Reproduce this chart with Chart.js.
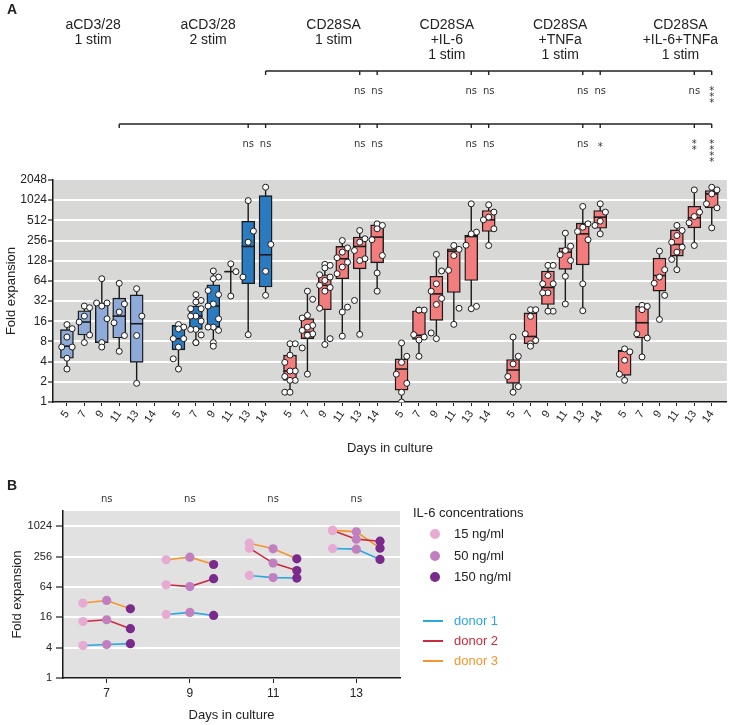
<!DOCTYPE html>
<html>
<head>
<meta charset="utf-8">
<script src="https://cdn.jsdelivr.net/npm/chart.js@4.4.0/dist/chart.umd.min.js"></script>
<style>
  body { margin: 0; background: #fff; font-family: "Liberation Sans", Arial, sans-serif; color: #222; }
  #wrap { position: relative; width: 729px; height: 725px; overflow: hidden; }
  canvas { position: absolute; left: 0; }
  #chartA { top: 0; }
  #chartB { top: 470px; }
  .panel { position: absolute; font-weight: bold; font-size: 14px; line-height: 14px; }
  .lg { position: absolute; font-size: 13px; line-height: 16px; white-space: nowrap; }
  .dot { position: absolute; width: 10px; height: 10px; border-radius: 50%; }
  .dash { position: absolute; width: 20px; height: 2px; }
</style>
</head>
<body>
<div id="wrap">
  <!-- a little wider than the page: Chart.js keeps ~8px free right of the plot for the rotated last label -->
  <canvas id="chartA" width="735" height="460"></canvas>
  <canvas id="chartB" width="729" height="255"></canvas>
  <div class="panel" style="left:7px; top:2px">A</div>
  <div class="panel" style="left:7px; top:478px">B</div>
  <div id="legendB"></div>
</div>
<script>
// ---- panel A data ----
const days = [5, 7, 9, 11, 13, 14];
const yTicksA = [1, 2, 4, 8, 16, 32, 64, 128, 256, 512, 1024, 2048];
const groupNames = [
  ['aCD3/28', '1 stim'],
  ['aCD3/28', '2 stim'],
  ['CD28SA', '1 stim'],
  ['CD28SA', '+IL-6', '1 stim'],
  ['CD28SA', '+TNFa', '1 stim'],
  ['CD28SA', '+IL-6+TNFa', '1 stim']
];
const groupColors = ['#8eaad8', '#2b7bc1', '#f37c7c', '#f37c7c', '#f37c7c', '#f37c7c'];

// [min, q1, median, q3, max] for each day
const g1Boxes = [[3.1, 4.5, 6.8, 12, 14.3], [7.7, 10, 15.6, 23, 27], [6.6, 7.7, 28.5, 30, 69], [5.7, 9, 19.1, 35.5, 59], [1.9, 3.9, 14.7, 39.7, 49], null];
const g2Boxes = [[3.1, 6.0, 8.8, 13.9, 14.3], [7.6, 12.1, 19.1, 27, 40], [6.8, 13.1, 27, 56, 90], [38, 88, 88, 88, 115], [10.1, 58, 209, 498, 1010], [39, 52, 157, 1200, 1600]];
const g3Boxes = [[1.4, 2.1, 2.9, 5.0, 7.4], [2.6, 8.8, 11, 17.5, 45], [7.2, 23.8, 55, 79, 113], [9.6, 69, 137, 209, 256], [10.2, 97, 209, 288, 362], [45, 119, 288, 439, 455]];
const g4Boxes = [[1.0, 1.5, 3.1, 4.4, 7.6], [4.8, 8.6, 9.9, 23, 23.5], [8.8, 16.5, 41, 75, 159], [14.4, 43, 178, 193, 216], [24.6, 65, 294, 305, 904], [216, 349, 522, 719, 873]];
const g5Boxes = [[1.4, 1.9, 3.0, 4.3, 9.3], [6.8, 7.4, 9.5, 21.4, 23.8], [22.6, 28.5, 51, 90, 109], [29, 95, 172, 199, 330], [23, 111, 322, 465, 826], [322, 391, 572, 719, 904]];
const g6Boxes = [[2.1, 2.5, 5.75, 5.9, 6.2], [4.7, 9, 15.2, 26.7, 27.6], [17, 45, 77, 140, 178], [94, 150, 224, 370, 430], [216, 396, 560, 832, 1458], [396, 787, 1270, 1428, 1595]];

// individual donors
const g1Dots = [[14.3, 12.4, 9.3, 6.6, 6.6, 4.5, 3.1], [27, 25.5, 19.1, 15.6, 10, 7.7], [69, 30, 27, 30, 17.4, 7.7, 6.6], [59, 29, 22, 15.2, 9.8, 5.7], [49, 19.1, 9.8, 1.9], []];
const g2Dots = [[14.3, 13.1, 12.3, 8.8, 8.8, 6.6, 4.4, 3.1], [40, 32.7, 31, 24.6, 24.6, 19.1, 19.1, 16.1, 12.1, 12.1, 10, 7.7, 7.7], [90, 73, 69, 46, 40, 29, 27, 17.4, 13.1, 13.1, 11.7, 7.7, 6.8], [115, 88, 38], [1010, 354, 242, 73, 10.1], [1600, 224, 89, 39]];
const g3Dots = [[7.4, 7.4, 5.0, 3.9, 2.9, 2.9, 2.4, 2.1, 2.1, 1.4, 1.4], [45, 34, 19.6, 17.9, 13.9, 13.1, 11.7, 10.4, 9.9, 6.4, 2.6], [113, 109, 100, 79, 73, 65, 55, 51, 45, 25, 8.8, 7.2], [256, 199, 172, 142, 122, 103, 82, 26, 22, 9.6], [362, 272, 242, 182, 137, 129, 32.7, 10.2], [455, 430, 383, 263, 153, 84, 45]];
const g4Dots = [[7.6, 4.8, 3.9, 2.6, 1.9, 1.4, 1.0], [23.5, 23.5, 23.5, 10.1, 9.3, 8.4, 4.8], [159, 90, 58, 45, 35, 28.5, 10.7, 8.8], [216, 189, 153, 92, 25, 14.4], [904, 342, 322, 218, 26.7, 24.6], [873, 680, 572, 522, 383, 216]];
const g5Dots = [[9.3, 4.8, 3.7, 2.4, 1.7, 1.4], [23.8, 23.8, 18.9, 10.4, 8.3, 7.4, 6.8], [109, 109, 77, 58, 58, 42.5, 42.5, 22.6, 22.6], [330, 211, 182, 157, 129, 75, 29], [826, 455, 405, 349, 263, 58, 23], [904, 680, 498, 430, 322]];
const g6Dots = [[6.2, 5.6, 4.2, 2.6, 2.1], [27.6, 26.7, 23.8, 10.4, 9, 4.7], [178, 94, 73, 59, 39, 17], [430, 362, 304, 242, 204, 172, 134, 94], [1458, 680, 584, 471, 216], [1595, 1458, 1270, 904, 787, 396]];

// significance: [group, day index]
const sigRef1 = [1, 5];
const sigTargets1 = [[2, 4], [2, 5], [3, 4], [3, 5], [4, 4], [4, 5], [5, 4], [5, 5]];
const sigLabels1 = ['ns', 'ns', 'ns', 'ns', 'ns', 'ns', 'ns', '***'];
const sigRef2 = [0, 3];
const sigTargets2 = [[1, 4], [1, 5], [2, 4], [2, 5], [3, 4], [3, 5], [4, 4], [4, 5], [5, 4], [5, 5]];
const sigLabels2 = ['ns', 'ns', 'ns', 'ns', 'ns', 'ns', 'ns', '*', '**', '****'];

// ---- panel B data ----
const bDays = [7, 9, 11, 13];
const yTicksB = [1, 4, 16, 64, 256, 1024];
const bSig = ['ns', 'ns', 'ns', 'ns'];
const concLabels = ['15 ng/ml', '50 ng/ml', '150 ng/ml'];
const concColors = ['#e6aad3', '#c17fc0', '#7a2a8c'];
const donorLabels = ['donor 1', 'donor 2', 'donor 3'];
const donorColors = ['#2aa8e0', '#cc2a3f', '#f5962a'];
// per day: [15, 50, 150 ng/ml]
const donor1 = [[4.4, 4.6, 4.8], [18.2, 20, 17.4], [108, 98, 96], [370, 359, 224]];
const donor2 = [[13.2, 14.3, 9.5], [70.5, 65, 93], [375, 190, 135], [839, 566, 516]];
const donor3 = [[30.6, 34.5, 23.6], [221, 249, 178], [471, 364, 231], [854, 791, 375]];

// ---- layout ----
const groupStep = 6.4;
const titleShift = [-1.0, -0.8, 0, 0.1, 0.2, 0.7];
const concOffset = [-0.57, 0, 0.57];
const FONT = '"Liberation Sans", Arial, sans-serif';
Chart.defaults.font.family = FONT;
Chart.defaults.color = '#222';

function pos(g, i) { return g * groupStep + i; }

const plotBg = {
  id: 'plotBg',
  beforeDraw(chart, args, opts) {
    const a = chart.chartArea;
    chart.ctx.save();
    chart.ctx.fillStyle = opts.color;
    chart.ctx.fillRect(a.left, a.top, a.right - a.left, a.bottom - a.top);
    chart.ctx.restore();
  }
};

function drawStars(ctx, label, x, y) {
  if (label.indexOf('*') < 0) { ctx.fillText(label, x, y); return; }
  const n = label.length;
  const start = n === 1 ? y : y - 3;
  for (let k = 0; k < n; k++) ctx.fillText('*', x, start + k * 6 + 3);
}

function drawBracket(ctx, xs, ref, targets, labels, lineY, textY) {
  const px = [ref].concat(targets).map(p => xs.getPixelForValue(pos(p[0], p[1])));
  ctx.strokeStyle = '#222';
  ctx.lineWidth = 1.4;
  ctx.beginPath();
  ctx.moveTo(Math.min(...px), lineY);
  ctx.lineTo(Math.max(...px), lineY);
  px.forEach(x => { ctx.moveTo(x, lineY); ctx.lineTo(x, lineY + 4); });
  ctx.stroke();
  ctx.font = '10px "DejaVu Sans"';
  ctx.fillStyle = '#333';
  targets.forEach((p, k) => drawStars(ctx, labels[k], px[k + 1], textY));
}

const annotationsA = {
  id: 'annotationsA',
  afterDraw(chart) {
    const ctx = chart.ctx, xs = chart.scales.x;
    ctx.save();
    ctx.textAlign = 'center';
    ctx.textBaseline = 'middle';
    ctx.fillStyle = '#222';
    ctx.font = '14px ' + FONT;
    groupNames.forEach((lines, g) => {
      const cx = xs.getPixelForValue(pos(g, 2.5 + titleShift[g]));
      lines.forEach((t, k) => ctx.fillText(t, cx, 25 + k * 15));
    });
    drawBracket(ctx, xs, sigRef1, sigTargets1, sigLabels1, 71, 91);
    drawBracket(ctx, xs, sigRef2, sigTargets2, sigLabels2, 124, 144);
    ctx.restore();
  }
};

const annotationsB = {
  id: 'annotationsB',
  afterDraw(chart) {
    const ctx = chart.ctx, xs = chart.scales.x;
    ctx.save();
    ctx.textAlign = 'center';
    ctx.textBaseline = 'middle';
    ctx.font = '10px "DejaVu Sans"';
    ctx.fillStyle = '#333';
    bDays.forEach((d, k) => ctx.fillText(bSig[k], xs.getPixelForValue(d), 29));
    ctx.restore();
  }
};

// ---- build panel A datasets ----
const groupBoxes = [g1Boxes, g2Boxes, g3Boxes, g4Boxes, g5Boxes, g6Boxes];
const groupDots = [g1Dots, g2Dots, g3Dots, g4Dots, g5Dots, g6Dots];
const boxData = [], whiskerData = [], medianData = [], dotData = [];
const tickPos = [], tickText = {};
groupBoxes.forEach((boxes, g) => {
  days.forEach((d, i) => {
    const xv = pos(g, i);
    tickPos.push(xv);
    tickText[xv.toFixed(2)] = String(d);
    const b = boxes[i];
    if (!b) return;
    boxData.push({ x: xv, y: [b[1], b[3]], g: g });
    whiskerData.push({ x: xv, y: b[0] }, { x: xv, y: b[4] }, { x: xv, y: null });
    medianData.push({ x: xv, y: b[2] });
    const dots = groupDots[g][i];
    dots.forEach((v, j) => {
      let off = 0;
      if (j > 0 && j < dots.length - 1) off = [-0.3, 0.3, 0][j % 3];
      dotData.push({ x: xv + off, y: v });
    });
  });
});

new Chart(document.getElementById('chartA'), {
  type: 'bar',
  data: {
    datasets: [
      { type: 'line', data: whiskerData, borderColor: '#1a1a1a', borderWidth: 1.4, pointRadius: 0, spanGaps: false, order: 4 },
      { type: 'bar', data: boxData, backgroundColor: c => groupColors[c.raw ? c.raw.g : 2], borderColor: '#1a1a1a', borderWidth: 1.4, borderSkipped: false, barThickness: 13, order: 3 },
      { type: 'scatter', data: medianData, pointStyle: 'line', pointRadius: 6.5, borderColor: '#1a1a1a', borderWidth: 1.6, order: 2 },
      { type: 'scatter', data: dotData, pointRadius: 3, backgroundColor: '#fff', borderColor: '#1a1a1a', borderWidth: 1, order: 1 }
    ]
  },
  options: {
    responsive: false,
    animation: false,
    events: [],
    layout: { padding: { top: 180, right: 0, left: 0, bottom: 0 } },
    plugins: { legend: { display: false }, tooltip: { enabled: false }, plotBg: { color: '#d8d9d7' } },
    scales: {
      x: {
        type: 'linear',
        min: -0.8,
        max: 5 * groupStep + 5 + 0.87,
        offset: false,
        afterBuildTicks: s => { s.ticks = tickPos.map(v => ({ value: v })); },
        afterFit: s => { s.height = 58; },
        ticks: { autoSkip: false, minRotation: 55, maxRotation: 55, padding: 2, font: { size: 11 }, color: '#222',
                 callback: v => tickText[Number(v).toFixed(2)] || '' },
        grid: { display: true, drawOnChartArea: false, drawTicks: true, tickLength: 4, color: '#222', offset: false },
        border: { display: true, color: '#1a1a1a', width: 1.5 },
        title: { display: true, text: 'Days in culture', font: { size: 13 }, color: '#222', padding: { top: 4, bottom: 4 } }
      },
      y: {
        type: 'logarithmic',
        min: 1,
        max: 2048,
        afterBuildTicks: s => { s.ticks = yTicksA.map(v => ({ value: v })); },
        afterFit: s => { s.width = 53; },
        ticks: { padding: 1, font: { size: 12 }, color: '#222', callback: v => String(v) },
        grid: { color: c => (c.tick && c.tick.value === 2048) ? 'rgba(0,0,0,0)' : '#ffffff', lineWidth: 2, tickColor: '#222', tickWidth: 1.2, tickLength: 5 },
        border: { display: true, color: '#1a1a1a', width: 1.5 },
        title: { display: true, text: 'Fold expansion', font: { size: 13 }, color: '#222', padding: { top: 4, bottom: 4 } }
      }
    }
  },
  plugins: [plotBg, annotationsA]
});

// ---- panel B ----
const donorValues = [donor1, donor2, donor3];
const lineSets = donorValues.map((vals, d) => ({
  type: 'line',
  data: vals.flatMap((trip, k) => trip.map((v, c) => ({ x: bDays[k] + concOffset[c], y: v })).concat([{ x: bDays[k], y: null }])),
  borderColor: donorColors[d],
  borderWidth: 1.6,
  pointRadius: 0,
  spanGaps: false,
  order: 2
}));
const dotSets = concLabels.map((lab, c) => ({
  type: 'scatter',
  label: lab,
  data: donorValues.flatMap(vals => vals.map((trip, k) => ({ x: bDays[k] + concOffset[c], y: trip[c] }))),
  pointRadius: 4.6,
  backgroundColor: concColors[c],
  borderWidth: 0,
  order: 1
}));

new Chart(document.getElementById('chartB'), {
  type: 'scatter',
  data: { datasets: lineSets.concat(dotSets) },
  options: {
    responsive: false,
    animation: false,
    events: [],
    layout: { padding: { top: 41, right: 329, left: 0, bottom: 0 } },
    plugins: { legend: { display: false }, tooltip: { enabled: false }, plotBg: { color: '#e1e1e1' } },
    scales: {
      x: {
        type: 'linear',
        min: 5.95,
        max: 14.05,
        afterBuildTicks: s => { s.ticks = bDays.map(v => ({ value: v })); },
        afterFit: s => { s.height = 47; },
        ticks: { padding: 3, font: { size: 12 }, color: '#222', maxRotation: 0 },
        grid: { display: true, drawOnChartArea: false, drawTicks: true, tickLength: 5, color: '#222' },
        border: { display: true, color: '#1a1a1a', width: 1.5 },
        title: { display: true, text: 'Days in culture', font: { size: 13 }, color: '#222', padding: { top: 4, bottom: 2 } }
      },
      y: {
        type: 'logarithmic',
        min: 1,
        max: 2048,
        afterBuildTicks: s => { s.ticks = yTicksB.map(v => ({ value: v })); },
        afterFit: s => { s.width = 63; },
        ticks: { padding: 4, font: { size: 11 }, color: '#222', callback: v => String(v) },
        grid: { color: '#ffffff', lineWidth: 2, tickColor: '#222', tickWidth: 1.2, tickLength: 7 },
        border: { display: true, color: '#1a1a1a', width: 1.5 },
        title: { display: true, text: 'Fold expansion', font: { size: 13 }, color: '#222', padding: { top: 10, bottom: 4 } }
      }
    }
  },
  plugins: [plotBg, annotationsB]
});

// ---- panel B legend ----
const lg = document.getElementById('legendB');
let html = '<div class="lg" style="left:413px; top:505px">IL-6 concentrations</div>';
concLabels.forEach((t, c) => {
  const y = 534 + c * 21.5;
  html += '<div class="dot" style="left:430px; top:' + (y - 5) + 'px; background:' + concColors[c] + '"></div>';
  html += '<div class="lg" style="left:454px; top:' + (y - 8) + 'px">' + t + '</div>';
});
donorLabels.forEach((t, d) => {
  const y = 621 + d * 20;
  html += '<div class="dash" style="left:423px; top:' + (y - 1) + 'px; background:' + donorColors[d] + '"></div>';
  html += '<div class="lg" style="left:454px; top:' + (y - 8) + 'px; color:' + donorColors[d] + '">' + t + '</div>';
});
lg.innerHTML = html;
</script>
</body>
</html>
